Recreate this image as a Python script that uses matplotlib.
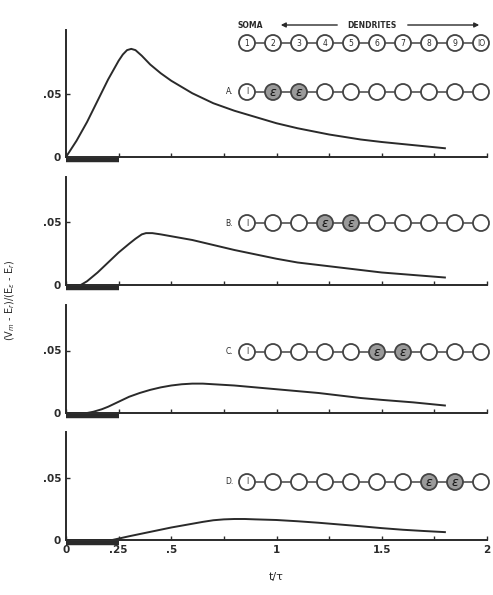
import matplotlib.pyplot as plt
import numpy as np
from matplotlib.patches import Circle

# curve data: t/tau and (Vm-Er)/(Ee-Er)
t_a = [0, 0.05, 0.1, 0.15, 0.2, 0.23, 0.25, 0.27, 0.29, 0.31, 0.33, 0.36, 0.4, 0.45, 0.5, 0.6,
       0.7, 0.8, 0.9, 1.0, 1.1, 1.25, 1.4, 1.5, 1.65, 1.8]
v_a = [0, 0.013, 0.028, 0.045, 0.062, 0.071, 0.077, 0.082, 0.0855, 0.0865, 0.0855, 0.081,
       0.074, 0.067, 0.061, 0.051, 0.043, 0.037, 0.032, 0.027, 0.023, 0.018, 0.014, 0.012,
       0.0095, 0.007]

t_b = [0, 0.07, 0.1, 0.15, 0.2, 0.25, 0.3, 0.33, 0.36, 0.38, 0.41, 0.45, 0.5, 0.6, 0.7, 0.8,
       0.9, 1.0, 1.1, 1.25, 1.4, 1.5, 1.65, 1.8]
v_b = [0, 0, 0.003, 0.010, 0.018, 0.026, 0.033, 0.037, 0.0405, 0.0415, 0.0415, 0.0405, 0.039,
       0.036, 0.032, 0.028, 0.0245, 0.021, 0.018, 0.015, 0.012, 0.010, 0.008, 0.006]

t_c = [0, 0.1, 0.13, 0.17, 0.2, 0.25, 0.3, 0.35, 0.4, 0.45, 0.5, 0.55, 0.6, 0.65, 0.7, 0.8,
       0.9, 1.0, 1.1, 1.2, 1.3, 1.4, 1.5, 1.65, 1.8]
v_c = [0, 0, 0.001, 0.003, 0.005, 0.009, 0.013, 0.016, 0.0185, 0.0205, 0.022, 0.023, 0.0235,
       0.0235, 0.023, 0.022, 0.0205, 0.019, 0.0175, 0.016, 0.014, 0.012, 0.0105, 0.0085, 0.006]

t_d = [0, 0.22, 0.26, 0.3, 0.4, 0.5, 0.6, 0.65, 0.7, 0.75, 0.8, 0.85, 0.9, 1.0, 1.1, 1.2,
       1.3, 1.4, 1.5, 1.6, 1.7, 1.8]
v_d = [0, 0, 0.0015, 0.003, 0.0065, 0.010, 0.013, 0.0145, 0.0158, 0.0165, 0.0168, 0.0168,
       0.0165, 0.016, 0.015, 0.0138, 0.0124, 0.011, 0.0095, 0.0082, 0.0072, 0.0063]

panels = [(t_a, v_a), (t_b, v_b), (t_c, v_c), (t_d, v_d)]
labels = ["A.", "B.", "C.", "D."]
synapses = [(2, 3), (4, 5), (6, 7), (8, 9)]   # excited compartments
pulse = 0.25                                   # duration of the conductance step

xticks = [0, 0.25, 0.5, 0.75, 1, 1.25, 1.5, 1.75, 2]
xticklabels = ["0", ".25", ".5", "", "1", "", "1.5", "", "2"]

W, H = 493, 595
fig = plt.figure(figsize=(W / 100, H / 100), dpi=100)
plt.rcParams['font.family'] = ['DejaVu Sans']

ink = "#2a2a2a"
x0, x1 = 66, 487
zero_px = [157, 285, 413, 540]
top_px = [30, 177, 305, 432]
px_per_unit = 1250.0

for i, (t, v) in enumerate(panels):
    ymax = (zero_px[i] - top_px[i]) / px_per_unit
    ax = fig.add_axes([x0 / W, (H - zero_px[i]) / H, (x1 - x0) / W, (zero_px[i] - top_px[i]) / H])
    ax.plot(t, v, color=ink, lw=1.4, solid_joinstyle="round")
    ax.plot([0, pulse], [-0.0023, -0.0023], color=ink, lw=3.2, solid_capstyle="butt", clip_on=False)
    ax.set_xlim(0, 2)
    ax.set_ylim(0, ymax)
    for s in ["top", "right"]:
        ax.spines[s].set_visible(False)
    for s in ["left", "bottom"]:
        ax.spines[s].set_color(ink)
        ax.spines[s].set_linewidth(1.4)
    ax.set_yticks([0, 0.05])
    ax.set_yticklabels(["0", ".05"], fontsize=7.5, color=ink, weight="semibold")
    ax.set_xticks(xticks)
    ax.tick_params(direction="in", length=3, color=ink, width=1)
    if i == 3:
        ax.set_xticklabels(xticklabels, fontsize=7.5, color=ink, weight="semibold")
        ax.set_xlabel("t/τ", fontsize=8, color=ink, labelpad=12)
    else:
        ax.set_xticklabels([])

fig.text(10 / W, 1 - 300 / H, "(V$_m$ - E$_r$)/(E$_ε$ - E$_r$)", rotation=90,
         fontsize=7, color=ink, ha="center", va="center")

# compartment diagrams in pixel coordinates
ov = fig.add_axes([0, 0, 1, 1])
ov.set_xlim(0, W)
ov.set_ylim(H, 0)
ov.axis("off")

cx0, dx, r = 247, 26, 8
chain_y = [92, 223, 352, 482]


def chain(y, numbered=False, shaded=()):
    xs = [cx0 + k * dx for k in range(10)]
    ov.plot([xs[0] + r, xs[-1] - r], [y, y], color="#444", lw=1.1, zorder=1)
    for k, x in enumerate(xs):
        fill = "#9a9a9a" if (k + 1) in shaded else "white"
        ov.add_patch(Circle((x, y), r, facecolor=fill, edgecolor="#444", lw=1.3, zorder=2))
        if numbered:
            ov.text(x, y, "IO" if k == 9 else str(k + 1), fontsize=5.5, ha="center", va="center",
                    color=ink, zorder=3)
        elif k == 0:
            ov.text(x, y, "I", fontsize=5.5, ha="center", va="center", color=ink, zorder=3)
        elif (k + 1) in shaded:
            ov.text(x, y + 0.5, "ε", fontsize=9, ha="center", va="center", color="#111",
                    style="italic", zorder=3)


chain(43, numbered=True)
ov.text(250, 25, "SOMA", fontsize=5.5, ha="center", va="center", color=ink, weight="bold")
ov.text(372, 25, "DENDRITES", fontsize=5.5, ha="center", va="center", color=ink, weight="bold")
ov.annotate("", xy=(278, 25), xytext=(340, 25),
            arrowprops=dict(arrowstyle="-|>", color=ink, lw=1, mutation_scale=7))
ov.annotate("", xy=(482, 25), xytext=(405, 25),
            arrowprops=dict(arrowstyle="-|>", color=ink, lw=1, mutation_scale=7))

for lab, y, sh in zip(labels, chain_y, synapses):
    chain(y, shaded=sh)
    ov.text(cx0 - r - 6, y, lab, fontsize=5.5, ha="right", va="center", color=ink)

fig.savefig("out.png", dpi=100, facecolor="white")
